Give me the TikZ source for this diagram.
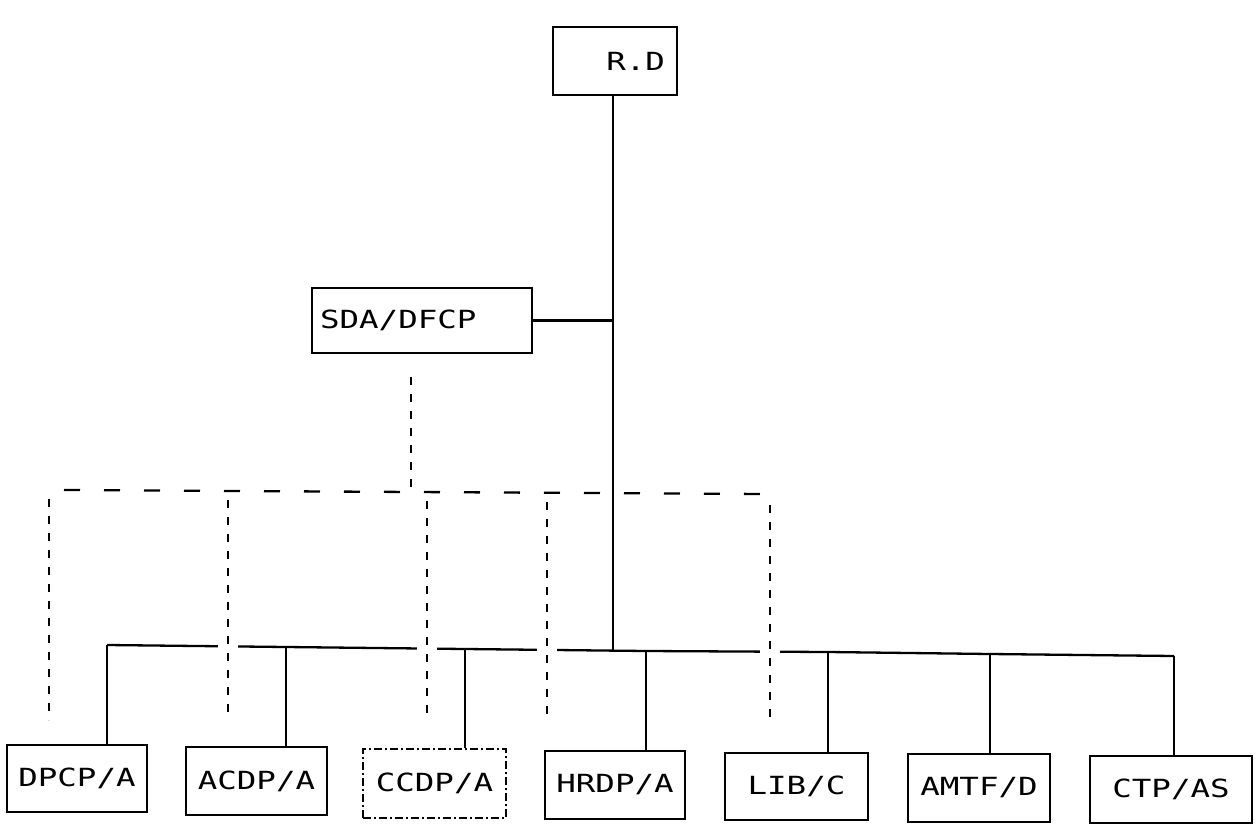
\documentclass[tikz,border=0pt]{standalone}
\usepackage{fontspec}
\newfontfamily\plotfont[FakeStretch=1.3]{DejaVu Sans Mono}

\begin{document}
\begin{tikzpicture}
[x=1pt,y=-1pt,
  boxDecorate/.style={shape=rectangle,draw,line width=2.3pt,inner sep=0pt,
    font=\plotfont\fontsize{25}{28}\selectfont},%
  lineDecorate/.style={-,line width=2.3pt},%
  dashHDecorate/.style={-,line width=2.3pt,dash pattern=on 16pt off 24pt},%
  dashVDecorate/.style={-,line width=2.3pt,dash pattern=on 8pt off 9pt},%
  dashGapDecorate/.style={dashVDecorate,preaction={draw=white,solid,line width=20pt}}]
\useasboundingbox (0,0) rectangle (1256,824);
%% boxes
\node (rd) at (615,61) [boxDecorate,minimum height=68pt,text width=100pt,
  inner xsep=12pt,align=right] {R.D};
\node (sda) at (422,320.5) [boxDecorate,minimum height=65pt,text width=204pt,
  inner xsep=8pt,align=left] {SDA/DFCP};
\foreach \nodename/\x/\y/\w/\h/\txt in {
  dpcp/77/778.5/140/67/{DPCP/A}, acdp/256.5/781/141/68/{ACDP/A},
  hrdp/615/785/140/68/{HRDP/A}, lib/796.5/786.5/143/67/{LIB/C},
  amtf/979/788/142/68/{AMTF/D}, ctp/1171/789.5/162/67/{CTP/AS}}
{
  \node (\nodename) at (\x,\y) [boxDecorate,minimum width=\w pt,minimum height=\h pt] {\txt};
}
\node (ccdp) at (434.5,783.5) [boxDecorate,minimum width=143pt,minimum height=69pt,
  dash pattern=on 8pt off 3pt on 2pt off 3pt] {CCDP/A};
%% bus and trunk
\foreach \nodename/\x/\y in {
  j1/107/645, j2/286/647, j3/465/649, j4/646/651, j5/828/652, j6/990/654, j7/1174/656}
{
  \coordinate (\nodename) at (\x,\y);
}
\coordinate (jt) at (613,650.5);
\draw[lineDecorate] (j1) -- (j2) -- (j3) -- (j4) -- (j5) -- (j6) -- (j7);
\draw[lineDecorate] (rd.south -| jt) -- (jt);
\draw[lineDecorate] (sda.east) -- (sda.east -| jt);
\path
\foreach \startnode/\endnode in {
  j1/dpcp, j2/acdp, j3/ccdp, j4/hrdp, j5/lib, j6/amtf, j7/ctp}
{
  (\startnode) edge[lineDecorate] (\startnode |- \endnode.north)
};
%% dashed links
\coordinate (dsrc) at (411,377);
\coordinate (dknee) at (411,490);
\coordinate (dleft) at (64,490);
\coordinate (dright) at (764,494);
\draw[dashVDecorate] (dsrc) -- (dknee);
\draw[dashHDecorate] (dleft) -- (dright);
\foreach \nodename/\x/\y in {
  d1/49/499, d2/228/500, d3/427/501, d4/547/502, d5/770/505}
{
  \coordinate (\nodename) at (\x,\y);
  \coordinate (\nodename e) at (\x,720);
  \draw[dashGapDecorate] (\nodename) -- (\nodename e);
}
\end{tikzpicture}
\end{document}
